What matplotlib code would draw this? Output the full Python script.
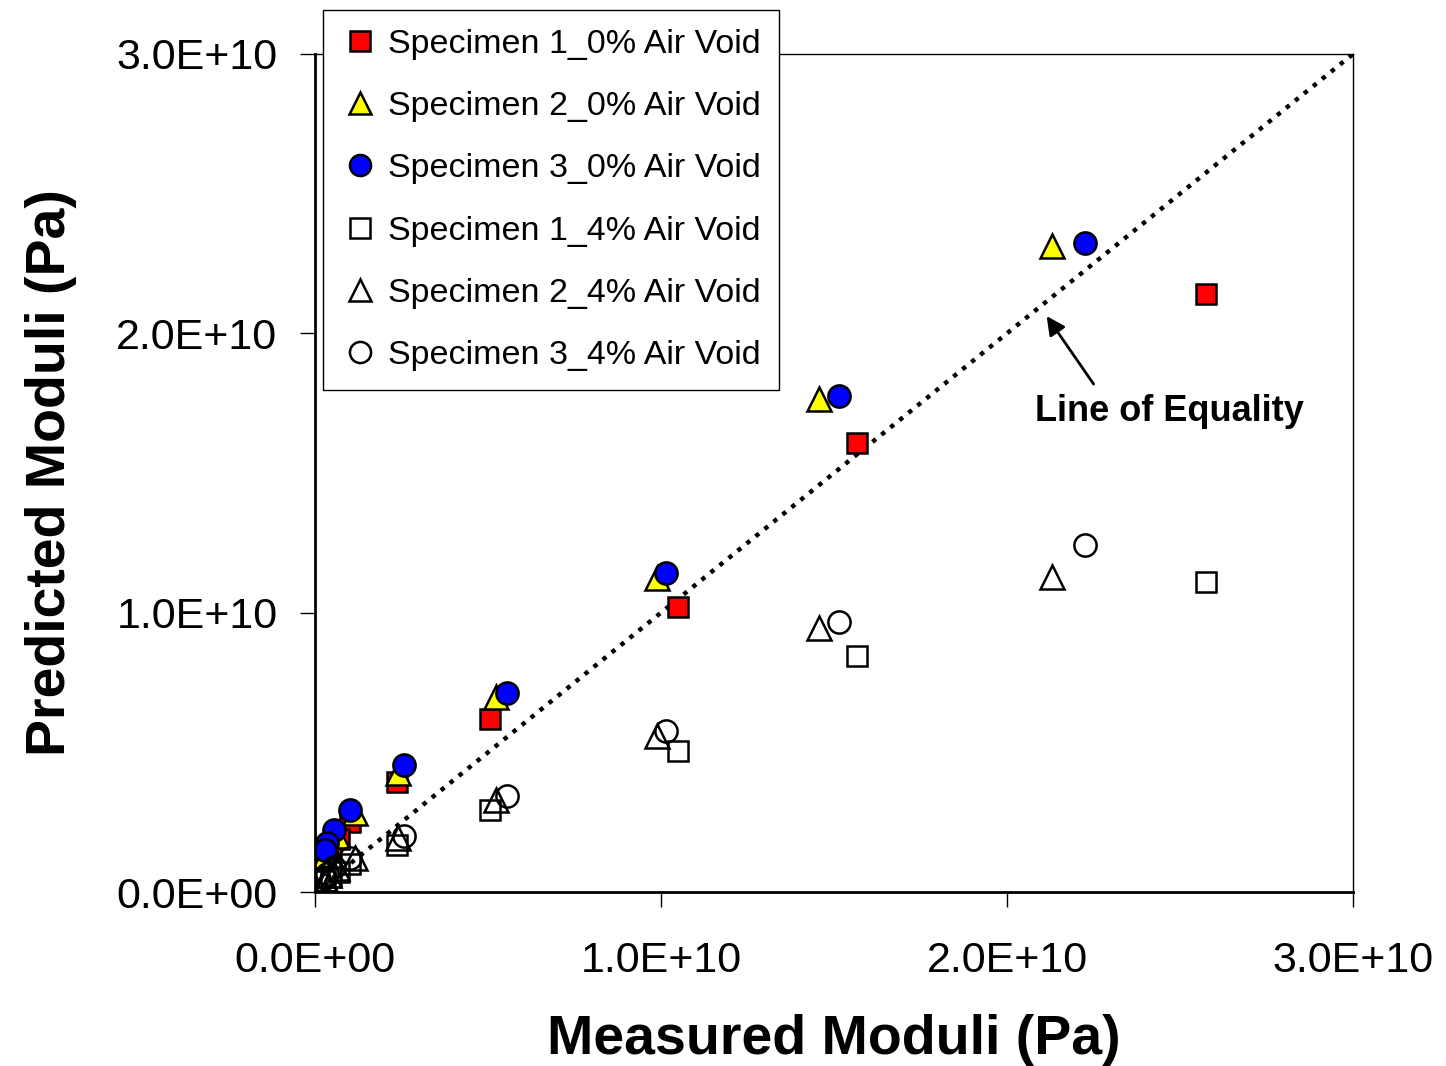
import matplotlib.pyplot as plt
from matplotlib.ticker import FuncFormatter

plt.rcParams['font.family'] = ['Liberation Sans', 'DejaVu Sans']

# measured / predicted moduli, units of 1e10 Pa
meas_s1 = [2.575, 1.566, 1.049, 0.506, 0.237, 0.100, 0.070, 0.045, 0.030]
meas_s2 = [2.130, 1.457, 0.988, 0.523, 0.240, 0.116, 0.065, 0.040, 0.028]
meas_s3 = [2.225, 1.514, 1.014, 0.555, 0.257, 0.101, 0.055, 0.035, 0.029]

pred_s1_0 = [2.141, 1.608, 1.020, 0.619, 0.394, 0.251, 0.190, 0.150, 0.120]
pred_s2_0 = [2.313, 1.765, 1.124, 0.698, 0.426, 0.283, 0.200, 0.160, 0.130]
pred_s3_0 = [2.324, 1.776, 1.142, 0.712, 0.455, 0.294, 0.222, 0.175, 0.150]

pred_s1_4 = [1.110, 0.845, 0.505, 0.294, 0.168, 0.100, 0.072, 0.055, 0.040]
pred_s2_4 = [1.128, 0.945, 0.559, 0.329, 0.193, 0.122, 0.085, 0.060, 0.045]
pred_s3_4 = [1.242, 0.967, 0.576, 0.344, 0.200, 0.122, 0.090, 0.065, 0.050]

labels = ['Specimen 1_0% Air Void', 'Specimen 2_0% Air Void', 'Specimen 3_0% Air Void',
          'Specimen 1_4% Air Void', 'Specimen 2_4% Air Void', 'Specimen 3_4% Air Void']

def sc(v):
    return [a * 1e10 for a in v]

fig = plt.figure(figsize=(14.46, 10.66), dpi=100)
ax = fig.add_axes([315 / 1446, 1 - 892 / 1066, (1353 - 315) / 1446, (892 - 54) / 1066])

# line of equality
ax.plot([0, 3e10], [0, 3e10], color='black', linestyle=(0, (1, 1.6)), linewidth=3.2, zorder=1)

kw = dict(linestyle='none', markeredgecolor='black', markeredgewidth=1.8)
h = []
h += ax.plot(sc(meas_s1), sc(pred_s1_0), marker='s', markersize=14.5, markerfacecolor='red', **kw)
h += ax.plot(sc(meas_s2), sc(pred_s2_0), marker='^', markersize=17, markerfacecolor='yellow', **kw)
h += ax.plot(sc(meas_s3), sc(pred_s3_0), marker='o', markersize=16, markerfacecolor='blue', **kw)
h += ax.plot(sc(meas_s1), sc(pred_s1_4), marker='s', markersize=14.5, markerfacecolor='none', **kw)
h += ax.plot(sc(meas_s2), sc(pred_s2_4), marker='^', markersize=17, markerfacecolor='none', **kw)
h += ax.plot(sc(meas_s3), sc(pred_s3_4), marker='o', markersize=16, markerfacecolor='none', **kw)

ax.set_xlim(0, 3e10)
ax.set_ylim(0, 3e10)
ticks = [0, 1e10, 2e10, 3e10]
ax.set_xticks(ticks)
ax.set_yticks(ticks)
fmt = FuncFormatter(lambda v, p: '0.0E+00' if v == 0 else '%.1fE+10' % (v / 1e10))
ax.xaxis.set_major_formatter(fmt)
ax.yaxis.set_major_formatter(fmt)
ax.tick_params(direction='out', length=11, width=1, labelsize=31)
ax.tick_params(axis='x', pad=24)
ax.tick_params(axis='y', pad=16)
for s in ['left', 'bottom']:
    ax.spines[s].set_linewidth(2)
for s in ['top', 'right']:
    ax.spines[s].set_linewidth(1)

ax.set_xlabel('Measured Moduli (Pa)', fontsize=40, fontweight='bold', labelpad=24)
ax.set_ylabel('Predicted Moduli (Pa)', fontsize=40, fontweight='bold', labelpad=28)

ax.annotate('', xy=(2.11e10, 2.07e10), xytext=(2.255e10, 1.81e10),
            arrowprops=dict(arrowstyle='-|>', color='black', lw=2, mutation_scale=28))
ax.text(2.08e10, 1.72e10, 'Line of Equality', fontsize=26, fontweight='bold', va='center', ha='left')

leg = fig.legend(h, labels, loc='upper left', bbox_to_anchor=(323 / 1446, 1 - 10 / 1066),
                 fontsize=24.5, frameon=True, fancybox=False, edgecolor='black', framealpha=1,
                 markerscale=0.95, handlelength=1.1, handletextpad=0.25, labelspacing=0.92,
                 borderpad=0.55, borderaxespad=0)
leg.get_frame().set_linewidth(1)

fig.savefig('out.png', dpi=100)
